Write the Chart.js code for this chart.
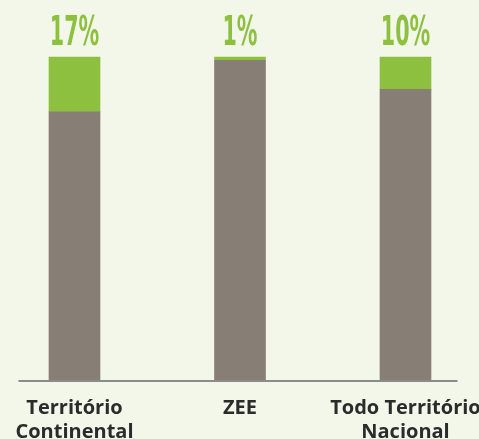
<!DOCTYPE html>
<html>
<head>
<meta charset="utf-8">
<script src="https://cdn.jsdelivr.net/npm/chart.js@4"></script>
<style>
    html, body {
        margin: 0;
        padding: 0;
        background: #f3f7ea;
    }
    .wrap {
        position: relative;
        width: 479px;
        height: 439px;
    }
</style>
</head>
<body>
<div class="wrap">
    <canvas id="chart"></canvas>
</div>
<script>
    const categories = [
        ["Território", "Continental"],
        ["ZEE"],
        ["Todo Território", "Nacional"]
    ];
    const protectedShare = [17, 1, 10];
    const remainingShare = [83, 99, 90];

    const GREEN = "#8dc03f";
    const GREY = "#877f76";

    const baselinePlugin = {
        id: "baseline",
        afterDatasetsDraw(chart) {
            const { ctx, chartArea } = chart;
            ctx.save();
            ctx.strokeStyle = "#8b8b8b";
            ctx.lineWidth = 2;
            ctx.beginPath();
            ctx.moveTo(chartArea.left - 56, chartArea.bottom + 1);
            ctx.lineTo(chartArea.right + 52, chartArea.bottom + 1);
            ctx.stroke();
            ctx.restore();
        }
    };

    const percentPlugin = {
        id: "percentLabels",
        afterDatasetsDraw(chart) {
            const { ctx } = chart;
            const meta = chart.getDatasetMeta(1);
            ctx.save();
            ctx.fillStyle = GREEN;
            ctx.textAlign = "center";
            ctx.textBaseline = "alphabetic";
            ctx.font = "bold 41px 'Liberation Sans Narrow', 'DejaVu Sans Condensed', sans-serif";
            meta.data.forEach((bar, i) => {
                ctx.save();
                ctx.translate(bar.x, bar.y - 12);
                ctx.scale(0.56, 1);
                ctx.fillText(`${protectedShare[i]}%`, 0, 0);
                ctx.restore();
            });
            ctx.restore();
        }
    };

    new Chart(document.getElementById("chart"), {
        type: "bar",
        data: {
            labels: categories,
            datasets: [
                { label: "Restante", data: remainingShare, backgroundColor: GREY, clip: false },
                { label: "Protegido", data: protectedShare, backgroundColor: GREEN, clip: false }
            ]
        },
        options: {
            responsive: true,
            maintainAspectRatio: false,
            animation: false,
            barThickness: 51,
            layout: {
                padding: { left: 74.5, right: 73.5, top: 57, bottom: 0 }
            },
            scales: {
                x: {
                    stacked: true,
                    offset: false,
                    grid: { display: false, drawTicks: false },
                    border: { display: false },
                    afterFit(scale) {
                        // labels run off the bottom edge in the original
                        scale.height = 59;
                        scale.paddingLeft = 0;
                        scale.paddingRight = 0;
                    },
                    ticks: {
                        autoSkip: false,
                        maxRotation: 0,
                        minRotation: 0,
                        padding: 16,
                        color: "#2b2b2b",
                        font: { family: "'Open Sans', sans-serif", size: 20, weight: "bold", lineHeight: 1.2 }
                    }
                },
                y: {
                    stacked: true,
                    display: false,
                    min: 0,
                    max: 100
                }
            },
            plugins: {
                legend: { display: false },
                tooltip: { enabled: false }
            }
        },
        plugins: [baselinePlugin, percentPlugin]
    });
</script>
</body>
</html>
